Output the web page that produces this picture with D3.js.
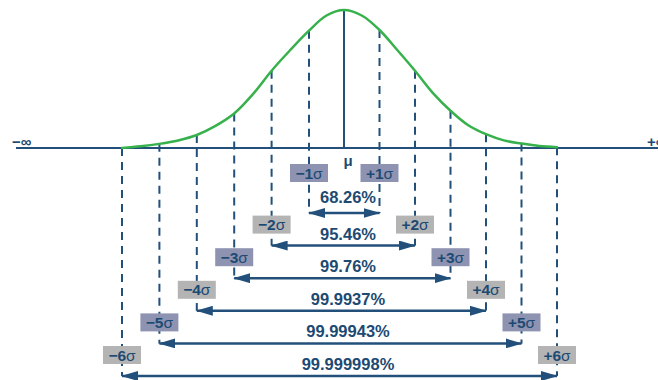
<!DOCTYPE html>
<html>
<head>
<meta charset="utf-8">
<script src="https://cdn.jsdelivr.net/npm/d3@7"></script>
<style>
  html, body { margin: 0; padding: 0; background: #fff; }
  svg { display: block; font-family: "Liberation Sans", Arial, Helvetica, sans-serif; }
</style>
</head>
<body>
<svg id="chart" width="658" height="380"></svg>
<script>
// ---- data ----
const curveSigma = [-6, -5.5, -5, -4.5, -4, -3.5, -3, -2.5, -2, -1.5, -1, -0.5, 0,
                    0.5, 1, 1.5, 2, 2.5, 3, 3.5, 4, 4.5, 5, 5.5, 6];
const curveDensity = [0.0, 0.012, 0.03, 0.055, 0.094, 0.16, 0.25, 0.39, 0.56, 0.71, 0.85, 0.96, 1.0,
                      0.96, 0.855, 0.71, 0.56, 0.40, 0.27, 0.165, 0.10, 0.055, 0.032, 0.014, 0.006];
const sigmaLevels = [1, 2, 3, 4, 5, 6];
const coverage = ["68.26%", "95.46%", "99.76%", "99.9937%", "99.99943%", "99.999998%"];
const negLabels = ["\u22121", "\u22122", "\u22123", "\u22124", "\u22125", "\u22126"];
const posLabels = ["+1", "+2", "+3", "+4", "+5", "+6"];
const boxColors = ["#8e93b2", "#b4b4b4"];

// ---- styles ----
const navy = "#22507b";
const textNavy = "#1d4a72";
const green = "#36b14b";

const svg = d3.select("#chart");

const x = d3.scaleLinear().domain([-6, -1, 0, 6]).range([122, 309, 344, 557]);
const y = d3.scaleLinear().domain([0, 1]).range([148, 10]);
const rowY = d3.scalePoint().domain(sigmaLevels).range([213, 376]);

const densityAt = s => curveDensity[curveSigma.indexOf(s)];

// arrow marker
const defs = svg.append("defs");
defs.append("marker")
  .attr("id", "arrow")
  .attr("markerUnits", "userSpaceOnUse")
  .attr("markerWidth", 17).attr("markerHeight", 10)
  .attr("refX", 16).attr("refY", 5)
  .attr("orient", "auto-start-reverse")
  .append("path").attr("d", "M0,0 L17,5 L0,10 Z").attr("fill", navy);

// dashed sigma lines
const sides = [];
sigmaLevels.forEach(k => { sides.push({ s: -k, k }); sides.push({ s: k, k }); });

svg.append("g").selectAll("line").data(sides).join("line")
  .attr("x1", d => x(d.s)).attr("x2", d => x(d.s))
  .attr("y1", d => y(densityAt(d.s)))
  .attr("y2", d => rowY(d.k))
  .attr("stroke", navy).attr("stroke-width", 2)
  .attr("stroke-dasharray", "8,6");

// mean line
svg.append("line")
  .attr("x1", x(0)).attr("x2", x(0))
  .attr("y1", y(densityAt(0))).attr("y2", y(0))
  .attr("stroke", navy).attr("stroke-width", 2);

// axis line
svg.append("line")
  .attr("x1", 16).attr("x2", 658)
  .attr("y1", y(0)).attr("y2", y(0))
  .attr("stroke", navy).attr("stroke-width", 2);

// bell curve
const line = d3.line()
  .x((d, i) => x(curveSigma[i]))
  .y(d => y(d))
  .curve(d3.curveCatmullRom.alpha(0.5));
svg.append("path")
  .datum(curveDensity)
  .attr("d", line)
  .attr("fill", "none")
  .attr("stroke", green)
  .attr("stroke-width", 2.5)
  .attr("stroke-linecap", "round");

// infinity labels
svg.append("text").attr("x", 12).attr("y", 147)
  .attr("font-size", 15).attr("font-weight", "bold").attr("fill", textNavy)
  .text("\u2212\u221E");
svg.append("text").attr("x", 647).attr("y", 147)
  .attr("font-size", 15).attr("font-weight", "bold").attr("fill", textNavy)
  .text("+\u221E");

// mu label
svg.append("text").attr("x", x(0) + 4).attr("y", 166)
  .attr("text-anchor", "middle")
  .attr("font-size", 15).attr("font-weight", "bold").attr("fill", textNavy)
  .text("\u03BC");

// arrows
svg.append("g").selectAll("line").data(sigmaLevels).join("line")
  .attr("x1", k => x(-k)).attr("x2", k => x(k))
  .attr("y1", k => rowY(k)).attr("y2", k => rowY(k))
  .attr("stroke", navy).attr("stroke-width", 2.5)
  .attr("marker-start", "url(#arrow)")
  .attr("marker-end", "url(#arrow)");

// coverage labels
svg.append("g").selectAll("text").data(sigmaLevels).join("text")
  .attr("x", x(0) + 4)
  .attr("y", k => rowY(k) - (k === 1 ? 10 : 6))
  .attr("text-anchor", "middle")
  .attr("font-size", 16.5).attr("font-weight", "bold").attr("fill", textNavy)
  .text((k, i) => coverage[i]);

// sigma boxes
const boxes = [];
sigmaLevels.forEach((k, i) => {
  boxes.push({ s: -k, k, label: negLabels[i] });
  boxes.push({ s: k, k, label: posLabels[i] });
});
const boxCY = k => k === 1 ? 173 : rowY(k) - 21;
const bg = svg.append("g").selectAll("g").data(boxes).join("g")
  .attr("transform", d => `translate(${x(d.s)},${boxCY(d.k)})`);
bg.append("rect")
  .attr("x", -19).attr("y", -9).attr("width", 38).attr("height", 18)
  .attr("fill", d => boxColors[(d.k + 1) % 2]);
const bt = bg.append("text")
  .attr("text-anchor", "middle").attr("y", 5.5)
  .attr("font-size", 15.5).attr("fill", textNavy);
bt.append("tspan").attr("font-weight", "bold").text(d => d.label);
bt.append("tspan").text("\u03C3");
</script>
</body>
</html>
